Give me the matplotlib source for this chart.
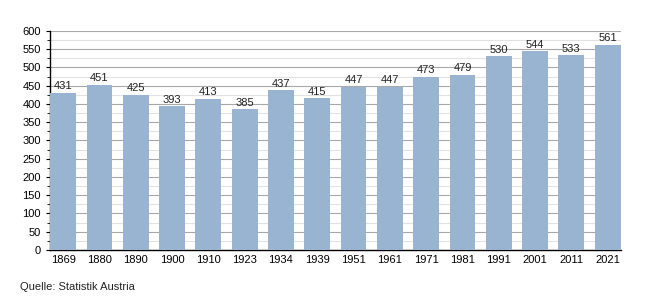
import matplotlib
matplotlib.use("Agg")
import matplotlib.pyplot as plt
from matplotlib.ticker import MultipleLocator

plt.rcParams['font.family'] = ['Liberation Sans', 'DejaVu Sans']

years = ['1869', '1880', '1890', '1900', '1910', '1923', '1934', '1939',
         '1951', '1961', '1971', '1981', '1991', '2001', '2011', '2021']
values = [431, 451, 425, 393, 413, 385, 437, 415,
          447, 447, 473, 479, 530, 544, 533, 561]

fig = plt.figure(figsize=(6.5, 3), dpi=100)
ax = fig.add_axes([0.077, 0.167, 0.878, 0.73])

x = range(len(years))
bars = ax.bar(x, values, width=0.71, color='#98b4d0', zorder=3)
for xi, v in zip(x, values):
    ax.text(xi, v + 5, str(v), ha='center', va='bottom', fontsize=8, color='#222222')

ax.set_xlim(-0.36, len(years) - 1 + 0.36)
ax.set_ylim(0, 600)
ax.set_xticks(list(x))
ax.set_xticklabels(years, fontsize=8)
ax.yaxis.set_major_locator(MultipleLocator(50))
ax.yaxis.set_minor_locator(MultipleLocator(25))
ax.tick_params(axis='y', labelsize=8, length=3, which='major')
ax.tick_params(axis='y', length=2, which='minor')
ax.tick_params(axis='x', length=0, pad=4)

ax.grid(axis='y', which='major', color='#a8a8a8', linewidth=0.8, zorder=0)
ax.grid(axis='y', which='minor', color='#e2e2e2', linewidth=0.8, zorder=0)
for s in ['top', 'right']:
    ax.spines[s].set_visible(False)
ax.spines['left'].set_linewidth(1)
ax.spines['bottom'].set_linewidth(1)

fig.text(0.031, 0.035, 'Quelle: Statistik Austria', fontsize=8, color='#222222')

fig.savefig('out.png', dpi=100)
